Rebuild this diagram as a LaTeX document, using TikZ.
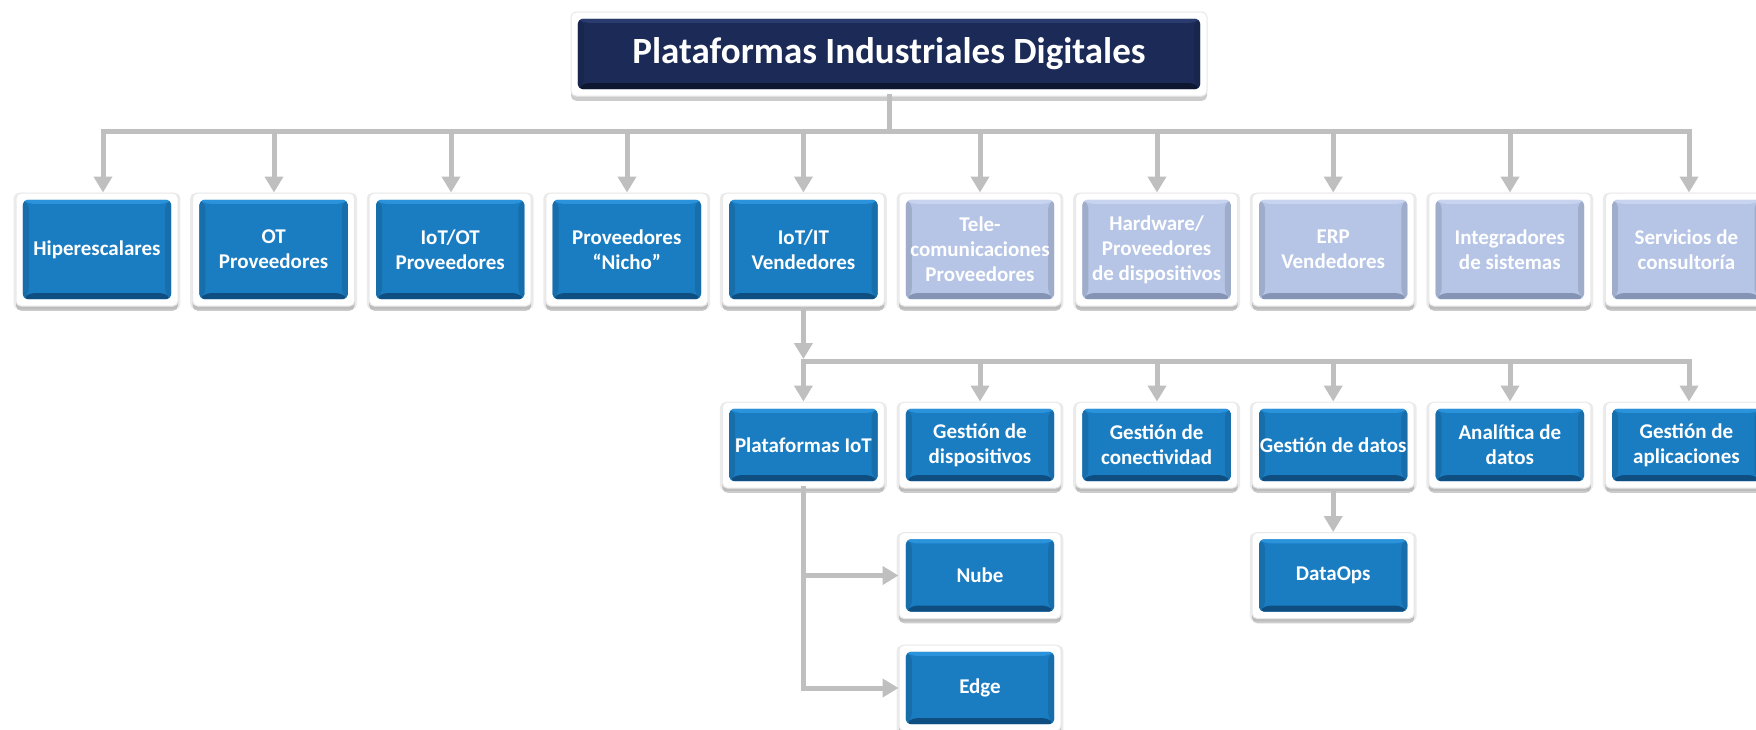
\documentclass[tikz,border=0pt]{standalone}
\usepackage{fontspec}
\setmainfont{Carlito}
\usetikzlibrary{arrows.meta,shadows}
\definecolor{bluemid}{HTML}{1A7DC2}
\definecolor{bluetop}{HTML}{2B93DC}
\definecolor{bluebot}{HTML}{0E4E80}
\definecolor{lavmid}{HTML}{B6C5E6}
\definecolor{lavtop}{HTML}{C8D4EF}
\definecolor{lavbot}{HTML}{8593B4}
\definecolor{navymid}{HTML}{1B2A56}
\definecolor{navytop}{HTML}{2A3B6E}
\definecolor{navybot}{HTML}{0E1730}
\definecolor{conngray}{HTML}{BFBFBF}
\tikzset{
  bevel/.style n args={3}{path picture={
    \coordinate (pa) at ([shift={(3.4pt,3.4pt)}]path picture bounding box.south west);
    \coordinate (pb) at ([shift={(-3.4pt,-3.4pt)}]path picture bounding box.north east);
    \coordinate (pbl) at (pa);
    \coordinate (ptr) at (pb);
    \coordinate (pbr) at (pa -| pb);
    \coordinate (ptl) at (pb -| pa);
    \fill[#2] (pbl) rectangle (ptr);
    \fill[#2!88!black] (pbl) -- ([shift={(3pt,3pt)}]pbl) -- ([shift={(3pt,-2pt)}]ptl) -- (ptl) -- cycle;
    \fill[#2!88!black] (pbr) -- ([shift={(-3pt,3pt)}]pbr) -- ([shift={(-3pt,-2pt)}]ptr) -- (ptr) -- cycle;
    \fill[#1] (ptl) -- (ptr) -- ([shift={(-3pt,-2pt)}]ptr) -- ([shift={(3pt,-2pt)}]ptl) -- cycle;
    \fill[#3] (pbl) -- (pbr) -- ([shift={(-3pt,3pt)}]pbr) -- ([shift={(3pt,3pt)}]pbl) -- cycle;
  }},
  box/.style={rectangle, rounded corners=2.5pt, fill=white, draw=black!9, line width=0.5pt,
    minimum width=81pt, inner sep=0pt, text=white, align=center,
    font=\bfseries\fontsize{10.5}{12.5}\selectfont,
    drop shadow={shadow xshift=0pt, shadow yshift=-2.4pt, opacity=0.20, fill=black}},
  halo/.style={drop shadow={shadow xshift=0pt, shadow yshift=-0.8pt, shadow scale=1.03, opacity=0.08, fill=black}},
  bluebox/.style={halo, box, bevel={bluetop}{bluemid}{bluebot}},
  lavbox/.style={halo, box, bevel={lavtop}{lavmid}{lavbot}},
  titlebox/.style={box, minimum width=318pt, minimum height=42pt,
    bevel={navytop}{navymid}{navybot}, font=\bfseries\fontsize{18.5}{22}\selectfont},
  tall/.style={minimum height=56.5pt},
  short/.style={minimum height=43pt},
  conn/.style={draw=conngray, line width=2.5pt, line cap=rect},
  arr/.style={draw=conngray, line width=2.5pt, -{Triangle[width=9pt,length=8pt]}},
}
\begin{document}
\begin{tikzpicture}[x=0.5pt,y=-0.5pt]
\useasboundingbox (0,0) rectangle (1756,729);
% title
\node[titlebox] (title) at (889,54) {Plataformas Industriales Digitales};
% row 1
\node[bluebox,tall] (hip) at (97,249.5) {Hiperescalares};
\node[bluebox,tall] (otp) at (273.6,249.5) {OT\\Proveedores};
\node[bluebox,tall] (iotot) at (450.2,249.5) {IoT/OT\\Proveedores};
\node[bluebox,tall] (nicho) at (626.8,249.5) {Proveedores\\“Nicho”};
\node[bluebox,tall] (iotit) at (803.4,249.5) {IoT/IT\\Vendedores};
\node[lavbox,tall] (tele) at (980,249.5) {Tele-\\comunicaciones\\Proveedores};
\node[lavbox,tall] (hard) at (1156.6,249.5) {Hardware/\\Proveedores\\de dispositivos};
\node[lavbox,tall] (erp) at (1333.2,249.5) {ERP\\Vendedores};
\node[lavbox,tall] (integ) at (1509.8,249.5) {Integradores\\de sistemas};
\node[lavbox,tall] (serv) at (1686.4,249.5) {Servicios de\\consultoría};
% row 2
\node[bluebox,short] (plat) at (803.4,445) {Plataformas IoT};
\node[bluebox,short] (gdisp) at (980,445) {Gestión de\\dispositivos};
\node[bluebox,short] (gcon) at (1156.6,445) {Gestión de\\conectividad};
\node[bluebox,short] (gdat) at (1333.2,445) {Gestión de datos};
\node[bluebox,short] (anal) at (1509.8,445) {Analítica de\\datos};
\node[bluebox,short] (gapp) at (1686.4,445) {Gestión de\\aplicaciones};
% row 3
\node[bluebox,short] (nube) at (980,575.5) {Nube};
\node[bluebox,short] (dataops) at (1333.2,575.5) {DataOps};
\node[bluebox,short] (edge) at (980,688) {Edge};
% bus 1
\coordinate (bus1w) at (103,131);
\coordinate (bus1e) at (1689,131);
\draw[conn] (title.south) -- (title.south |- bus1w);
\draw[conn] (bus1w) -- (bus1e);
\foreach \n/\x in {hip/103, otp/274, iotot/451, nicho/627, iotit/803.4, tele/980, hard/1157, erp/1333.2, integ/1510, serv/1689}{
  \coordinate (bt) at (\x,131);
  \draw[arr] (bt) -- (bt |- \n.north);
}
% bus 2
\coordinate (bus2w) at (803.4,361);
\coordinate (bus2e) at (1689,361);
\draw[arr] (iotit.south) -- ([yshift=1pt]iotit.south |- bus2w);
\draw[conn] (bus2w) -- (bus2e);
\foreach \n/\x in {plat/803.4, gdisp/980, gcon/1157, gdat/1333.2, anal/1510, gapp/1689}{
  \coordinate (bt) at (\x,361);
  \draw[arr] (bt) -- (bt |- \n.north);
}
% plataformas -> nube, edge
\coordinate (pe) at (plat.south |- edge.west);
\draw[conn] (plat.south) -- (pe);
\draw[arr] (plat.south |- nube.west) -- (nube.west);
\draw[arr] (pe) -- (edge.west);
% gestion de datos -> dataops
\draw[arr] (gdat.south) -- (dataops.north);
\end{tikzpicture}
\end{document}
